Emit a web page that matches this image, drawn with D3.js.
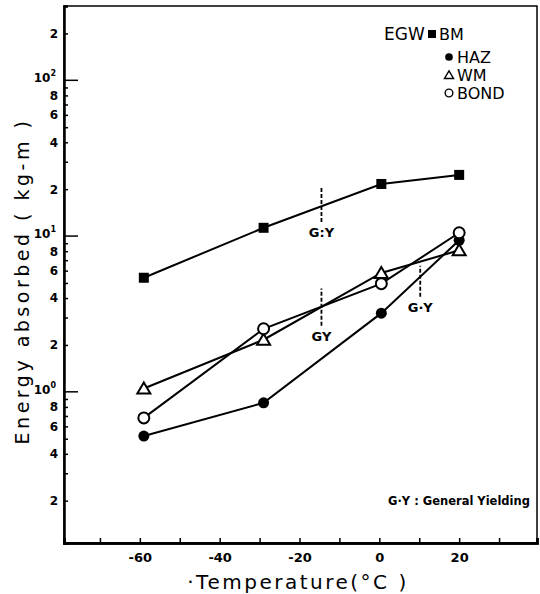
<!DOCTYPE html>
<html>
<head>
<meta charset="utf-8">
<script src="https://cdn.jsdelivr.net/npm/d3@7"></script>
<style>
  body { margin: 0; background: #fff; }
  svg { display: block; }
  text { font-family: "DejaVu Sans", sans-serif; fill: #000; }
</style>
</head>
<body>
<svg id="chart" width="540" height="594"></svg>
<script>
// data
var temps = [-59, -29, 0.5, 20];
var bm = [5.4, 11.3, 21.6, 24.7];
var haz = [0.52, 0.85, 3.2, 9.4];
var wm = [1.05, 2.16, 5.8, 8.1];
var bond = [0.68, 2.54, 4.95, 10.5];

var xTicks = [-60, -40, -20, 0, 20];
var xMinorTicks = [-70, -50, -30, -10, 10, 30];
var yDecades = [1, 10, 100];
var yMantissas = [2, 3, 4, 5, 6, 7, 8, 9];
var yLabelMantissas = [2, 4, 6, 8];

var legendNames = ['BM', 'HAZ', 'WM', 'BOND'];
var legendSymbols = ['square', 'dot', 'triangle', 'circle'];

// general yielding markers: temperature, energy range, label
var gyTemps = [-14.5, -14.5, 10.25];
var gyRanges = [[12.3, 20.7], [2.66, 4.6], [4.08, 6.46]];
var gyLabels = ['G:Y', 'GY', 'G·Y'];

var svg = d3.select('#chart');

var plotL = 64, plotR = 537, plotT = 6, plotB = 543;

var x = d3.scaleLinear().domain([-79, 39.5]).range([plotL, plotR]);
var y = d3.scaleLog().domain([0.107, 300]).range([plotB, plotT]);

// frame
svg.append('rect')
  .attr('x', plotL).attr('y', plotT)
  .attr('width', plotR - plotL).attr('height', plotB - plotT)
  .attr('fill', 'none').attr('stroke', '#000').attr('stroke-width', 1.5);

// x axis
var xAxis = svg.append('g')
  .attr('transform', 'translate(0,' + plotB + ')')
  .call(d3.axisBottom(x).tickValues(xTicks).tickSize(-5).tickPadding(10)
    .tickFormat(function (d) { return d === 0 ? '0' : d; }));
xAxis.append('g').call(d3.axisBottom(x).tickValues(xMinorTicks).tickSize(-5).tickFormat(''));
xAxis.selectAll('.domain').attr('stroke-width', 2.5);
xAxis.selectAll('line').attr('stroke-width', 1.5);
xAxis.selectAll('text')
  .attr('font-size', 13).attr('font-weight', 'bold').attr('fill', '#000')
  .attr('font-family', '"DejaVu Sans", sans-serif');

// y axis: minor ticks
var minor = [];
[0.1, 1, 10, 100].forEach(function (d) {
  yMantissas.forEach(function (m) {
    var v = +(m * d).toPrecision(3);
    if (v >= y.domain()[0] && v <= y.domain()[1]) minor.push(v);
  });
});

var yAxis = svg.append('g')
  .attr('transform', 'translate(' + plotL + ',0)')
  .call(d3.axisLeft(y).tickValues(minor).tickSize(-4).tickPadding(6)
    .tickFormat(function (d) {
      var m = Math.round(d / Math.pow(10, Math.floor(Math.log10(d) + 1e-9)));
      return yLabelMantissas.indexOf(m) >= 0 ? m : '';
    }));
yAxis.selectAll('.domain').attr('stroke-width', 2.5);
yAxis.selectAll('line').attr('stroke-width', 1.5);
yAxis.selectAll('text')
  .attr('font-size', 12).attr('font-weight', 'bold').attr('fill', '#000')
  .attr('font-family', '"DejaVu Sans", sans-serif');

// decade ticks and labels
var dec = svg.append('g').selectAll('g').data(yDecades).enter().append('g')
  .attr('transform', function (d) { return 'translate(' + plotL + ',' + y(d) + ')'; });
dec.append('line').attr('x1', 0).attr('x2', 14).attr('stroke', '#000').attr('stroke-width', 1.5);
var decText = dec.append('text')
  .attr('x', -8).attr('y', 2)
  .attr('text-anchor', 'end')
  .attr('font-size', 12).attr('font-weight', 'bold');
decText.append('tspan').text('10');
decText.append('tspan').attr('dy', -6).attr('font-size', 8)
  .text(function (d) { return Math.round(Math.log10(d)); });

// axis titles
svg.append('text')
  .attr('transform', 'translate(29,281) rotate(-90)')
  .attr('text-anchor', 'middle')
  .attr('font-size', 19)
  .attr('letter-spacing', 3.5)
  .text('Energy  absorbed ( kg-m )');

svg.append('text')
  .attr('x', 298).attr('y', 589)
  .attr('text-anchor', 'middle')
  .attr('font-size', 20)
  .attr('letter-spacing', 2.5)
  .text('·Temperature(°C )');

// general yielding dashed markers
var gy = svg.append('g').selectAll('g').data(gyTemps).enter().append('g');
gy.append('line')
  .attr('x1', function (d) { return x(d); })
  .attr('x2', function (d) { return x(d); })
  .attr('y1', function (d, i) { return y(gyRanges[i][0]); })
  .attr('y2', function (d, i) { return y(gyRanges[i][1]); })
  .attr('stroke', '#000').attr('stroke-width', 1.8)
  .attr('stroke-dasharray', '4,2');
gy.append('text')
  .attr('x', function (d) { return x(d); })
  .attr('y', function (d, i) { return y(gyRanges[i][0]) + 15; })
  .attr('text-anchor', 'middle')
  .attr('font-size', 13).attr('font-weight', 'bold')
  .text(function (d, i) { return gyLabels[i]; });

svg.append('text')
  .attr('x', 388).attr('y', 505)
  .attr('font-size', 11.5).attr('font-weight', 'bold')
  .text('G·Y : General Yielding');

// series
var series = [bm, haz, wm, bond];
var line = d3.line()
  .x(function (d, i) { return x(temps[i]); })
  .y(function (d) { return y(d); });

svg.append('g').selectAll('path').data(series).enter().append('path')
  .attr('d', line)
  .attr('fill', 'none').attr('stroke', '#000').attr('stroke-width', 2);

function drawSymbol(sel, kind) {
  if (kind === 'square') {
    sel.append('rect').attr('x', -5).attr('y', -5).attr('width', 10).attr('height', 10)
      .attr('fill', '#000');
  } else if (kind === 'dot') {
    sel.append('circle').attr('r', 5.5).attr('fill', '#000');
  } else if (kind === 'triangle') {
    sel.append('path').attr('d', 'M0,-6L6.5,5H-6.5Z')
      .attr('fill', '#fff').attr('stroke', '#000').attr('stroke-width', 2);
  } else {
    sel.append('circle').attr('r', 5.5)
      .attr('fill', '#fff').attr('stroke', '#000').attr('stroke-width', 2);
  }
}

series.forEach(function (s, k) {
  svg.append('g').selectAll('g').data(s).enter().append('g')
    .attr('transform', function (d, i) { return 'translate(' + x(temps[i]) + ',' + y(d) + ')'; })
    .each(function () { drawSymbol(d3.select(this), legendSymbols[k]); });
});

// legend
svg.append('text')
  .attr('x', 384).attr('y', 40)
  .attr('font-size', 17)
  .text('EGW');

var legendY = [34, 57, 75, 93];
var leg = svg.append('g').selectAll('g').data(legendNames).enter().append('g')
  .attr('transform', function (d, i) { return 'translate(0,' + legendY[i] + ')'; });
leg.each(function (d, i) {
  var g = d3.select(this).append('g')
    .attr('transform', 'translate(' + (i === 0 ? 432 : 449) + ',0) scale(' + (i === 0 ? 0.8 : 0.7) + ')');
  drawSymbol(g, legendSymbols[i]);
});
leg.append('text')
  .attr('x', function (d, i) { return i === 0 ? 439 : 457; })
  .attr('y', 6)
  .attr('font-size', 16)
  .text(function (d) { return d; });
</script>
</body>
</html>
